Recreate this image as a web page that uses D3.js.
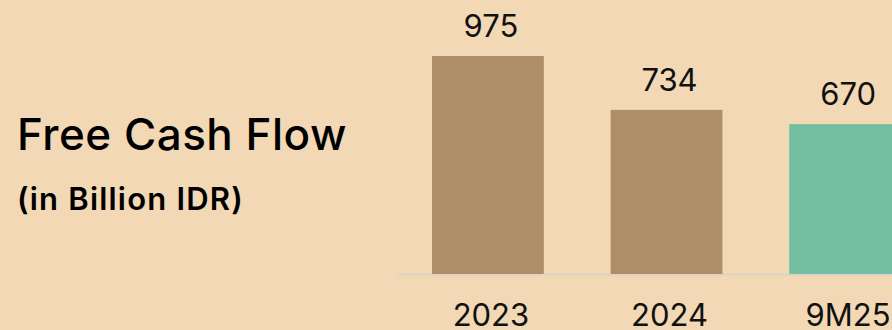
<!DOCTYPE html>
<html>
<head>
<meta charset="utf-8">
<script src="https://cdn.jsdelivr.net/npm/d3@7"></script>
<style>
  html, body { margin: 0; padding: 0; background: #F2D8B4; }
  svg { display: block; font-family: Inter, sans-serif; }
</style>
</head>
<body>
<svg></svg>
<script>
let width = 892,
    height = 330;

const categories = ['2023', '2024', '9M25'];
const values = [975, 734, 670];
const barColors = ['#AD8E67', '#AD8E67', '#74BEA3'];

let svg = d3.select('svg')
    .attr('width', width)
    .attr('height', height);

svg.append('rect')
    .attr('width', width)
    .attr('height', height)
    .attr('fill', '#F2D8B4');

const baseY = 274;

let x = d3.scaleBand()
    .domain(categories)
    .range([432, 901])
    .paddingInner(0.374)
    .paddingOuter(0);

let y = d3.scaleLinear()
    .domain([0, 975])
    .range([baseY, 56]);

// title block
svg.append('text')
    .attr('x', 17)
    .attr('y', 150)
    .attr('font-size', 44)
    .attr('font-weight', 500)
    .attr('letter-spacing', 0.5)
    .attr('fill', '#000')
    .text('Free Cash Flow');

svg.append('text')
    .attr('x', 17)
    .attr('y', 210)
    .attr('font-size', 31)
    .attr('font-weight', 600)
    .attr('letter-spacing', 1.2)
    .attr('fill', '#000')
    .text('(in Billion IDR)');

// baseline
svg.append('line')
    .attr('x1', 398)
    .attr('x2', width)
    .attr('y1', baseY + 0.5)
    .attr('y2', baseY + 0.5)
    .attr('stroke', '#DCD3C6')
    .attr('stroke-width', 2);

let bars = svg.append('g').attr('class', 'bars')
    .selectAll('rect')
    .data(categories)
    .enter().append('rect')
    .attr('x', d => x(d))
    .attr('y', (d, i) => y(values[i]))
    .attr('width', x.bandwidth())
    .attr('height', (d, i) => baseY - y(values[i]))
    .attr('fill', (d, i) => barColors[i]);

let valueLabels = svg.append('g').attr('class', 'value-labels')
    .selectAll('text')
    .data(categories)
    .enter().append('text')
    .attr('x', d => x(d) + x.bandwidth() / 2 + 3)
    .attr('y', (d, i) => y(values[i]) - 19)
    .attr('text-anchor', 'middle')
    .attr('font-size', 31)
    .attr('fill', '#111')
    .text((d, i) => values[i]);

let catLabels = svg.append('g').attr('class', 'cat-labels')
    .selectAll('text')
    .data(categories)
    .enter().append('text')
    .attr('x', d => x(d) + x.bandwidth() / 2 + 3)
    .attr('y', 326)
    .attr('text-anchor', 'middle')
    .attr('font-size', 31)
    .attr('fill', '#111')
    .text(d => d);
</script>
</body>
</html>
